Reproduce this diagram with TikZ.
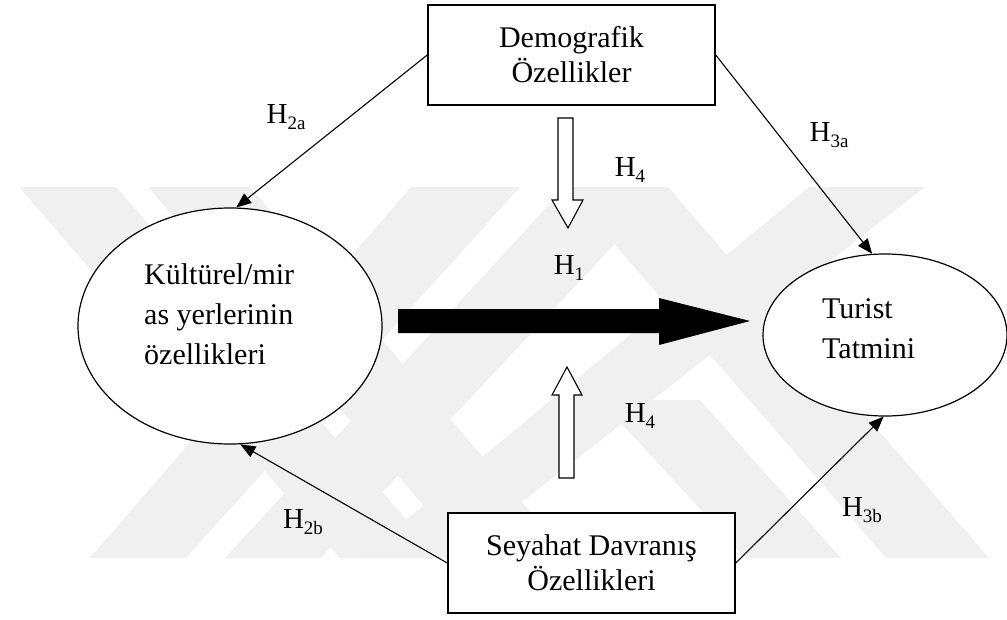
\documentclass[tikz,border=0pt]{standalone}
\usepackage{fontspec}
\setmainfont{Liberation Serif}
\usetikzlibrary{shapes.geometric,arrows.meta}
% hypothesis label with a lowered index, e.g. H_{2a}
\newcommand{\Hyp}[1]{H\raisebox{-0.2em}{\fontsize{19}{19}\selectfont #1}}

\begin{document}
\begin{tikzpicture}[x=1pt,y=-1pt,
  every node/.style={font=\fontsize{30}{35}\selectfont},
  box/.style={draw,line width=1.5pt,fill=white,minimum width=287pt,
    minimum height=100pt,align=center,inner sep=0pt},
  oval/.style={draw,ellipse,line width=1.2pt,fill=white,inner sep=0pt},
  ovaltext/.style={align=left,inner sep=0pt,anchor=west,
    font=\fontsize{30}{40}\selectfont},
  lbl/.style={inner sep=0pt,font=\fontsize{29}{35}\selectfont},
  link/.style={line width=1.1pt,-{Triangle[length=15pt,width=12pt]}},
  hollow/.style={draw,line width=1.1pt,fill=white,line join=miter},
  band/.style={fill=black!6}]

\useasboundingbox (0,0) rectangle (1007,619);

% faint background pattern of diagonal bands (top x-range -> bottom x-range)
\begin{scope}
  \clip (15,187) rectangle (992,558);
  \fill[band] (19,187) -- (116,187) -- (440,558) -- (340,558) -- cycle;
  \fill[band] (148,187) -- (250,187) -- (570,558) -- (469,558) -- cycle;
  \fill[band] (411,187) -- (520,187) -- (186,558) -- (90,558) -- cycle;
  \fill[band] (565,187) -- (668,187) -- (321,558) -- (225,558) -- cycle;
  \fill[band] (565,187) -- (668,187) -- (989,558) -- (886,558) -- cycle;
  \fill[band] (809,187) -- (925,187) -- (450,558) -- (360,558) -- cycle;
  \fill[band] (600,400) -- (700,400) -- (841,558) -- (745,558) -- cycle;
\end{scope}

% boxes and ovals
\node[box] (demo) at (571.5,55) {Demografik\\Özellikler};
\node[box] (sey) at (591.5,563) {Seyahat Davranış\\Özellikleri};
\node[oval,minimum width=304pt,minimum height=236pt] (kul) at (230,326) {};
\node[oval,minimum width=244pt,minimum height=162pt] (tur) at (885,335) {};
\node[ovaltext] (kultxt) at (144,314) {Kültürel/mir\\as yerlerinin\\özellikleri};
\node[ovaltext] (turtxt) at (822,329) {Turist\\Tatmini};

% main effect H1
\fill (398,309) -- (659,309) -- (659,298) -- (750,321) -- (659,345)
  -- (659,333) -- (398,333) -- cycle;

% moderating effects H4
\draw[hollow] (558,118) -- (573,118) -- (573,200) -- (583,200) -- (568,228)
  -- (552,200) -- (558,200) -- cycle;
\draw[hollow] (559,478) -- (574,478) -- (574,395) -- (582,395) -- (567,367)
  -- (552,395) -- (559,395) -- cycle;

% direct effects
\draw[link] (demo.west) -- (kul.87);
\draw[link] (demo.east) -- (tur.99);
\draw[link] (sey.west) -- (kul.-85);
\draw[link] (sey.east) -- (tur.-91);

% hypothesis labels
\node[lbl] (h2a) at (286,117) {\Hyp{2a}};
\node[lbl] (h3a) at (829,135) {\Hyp{3a}};
\node[lbl] (h4a) at (630,170) {\Hyp{4}};
\node[lbl] (h1) at (569,268) {\Hyp{1}};
\node[lbl] (h4b) at (640,416) {\Hyp{4}};
\node[lbl] (h2b) at (303,522) {\Hyp{2b}};
\node[lbl] (h3b) at (862,510) {\Hyp{3b}};
\end{tikzpicture}
\end{document}
